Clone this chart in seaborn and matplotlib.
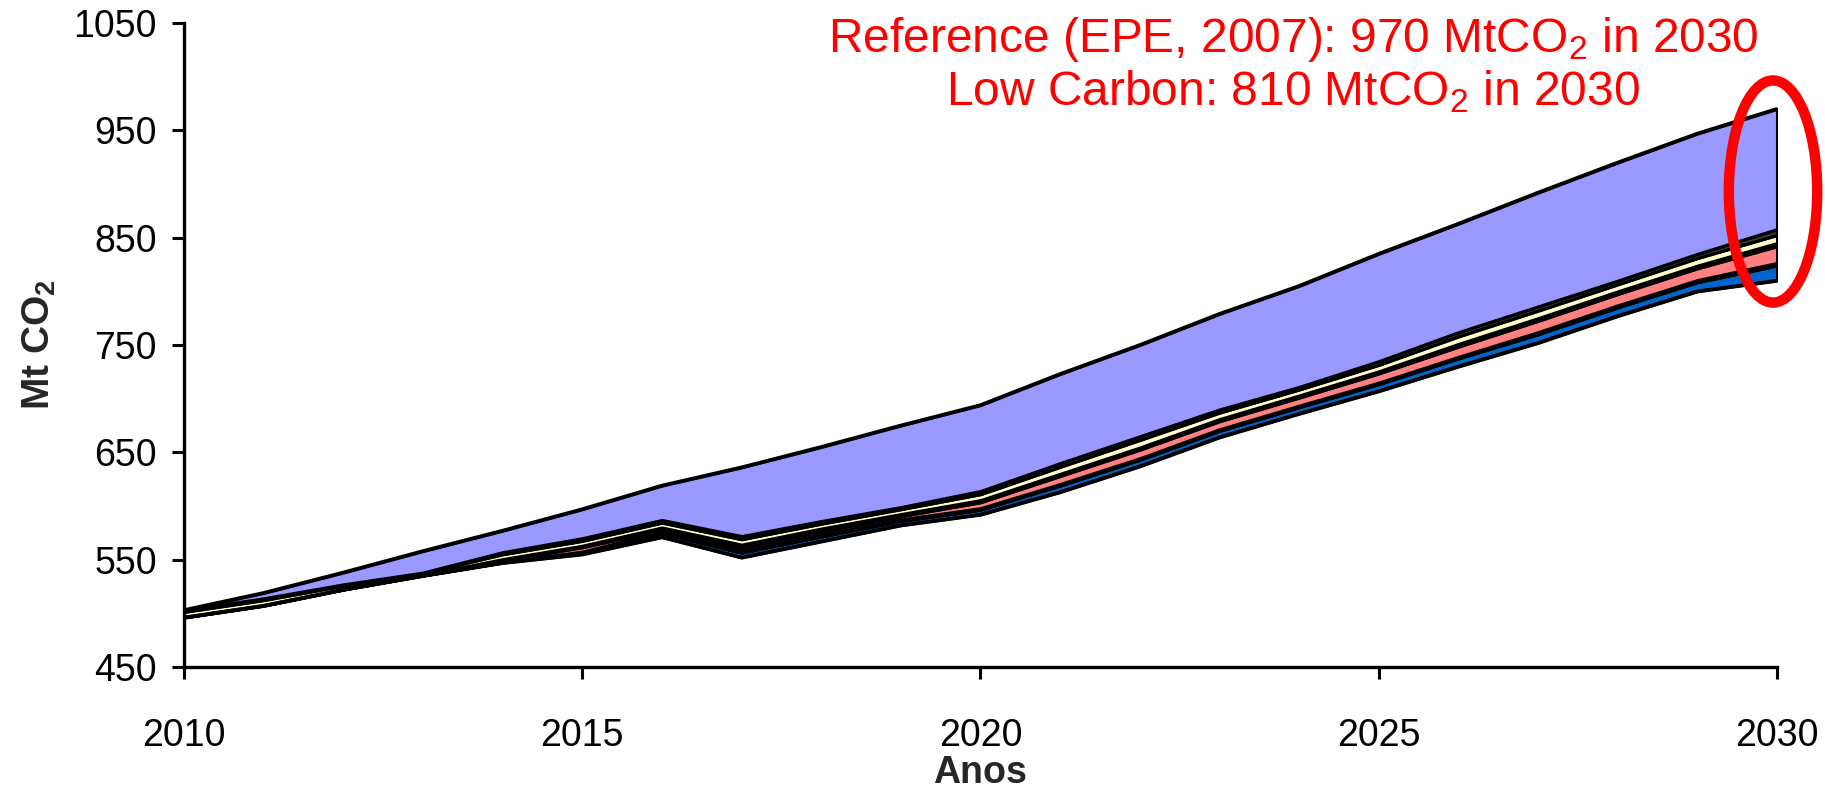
import matplotlib
matplotlib.use("Agg")
import matplotlib.pyplot as plt
from matplotlib.patches import Ellipse
import numpy as np
import pandas as pd
import seaborn as sns

# Emission trajectories, Mt CO2
years = list(range(2010, 2031))
low_carbon = [496, 507, 522, 535, 547, 555, 571, 552, 567, 582, 592,
              613, 637, 664, 686, 707, 730, 752, 777, 800, 810]
reference = [503, 519, 538, 558, 577, 597, 619, 636, 655, 675, 694,
             723, 750, 779, 805, 835, 863, 892, 920, 947, 970]

# Mitigation wedges stacked on top of the low carbon trajectory
wedge_blue = [0.2, 0.2, 0.2, 0.2, 0.5, 1.5, 3.5, 4.5, 4.5, 4, 4.5,
              6, 6, 6, 6, 6.5, 7.5, 8, 8, 8.5, 14]
wedge_dark1 = [0.2, 0.2, 0.2, 0.2, 0.5, 1, 1.5, 2, 2, 1.5, 1.5,
               1.5, 1.5, 1.5, 1.5, 1.5, 1.5, 2, 2, 2, 2.5]
wedge_pink = [0.2, 0.2, 0.2, 0.2, 1.5, 4, 2, 3, 3, 3, 5.5,
              7.5, 8, 7.5, 7.5, 8.5, 9.5, 10.5, 10.5, 11, 15.5]
wedge_dark2 = [0.2, 0.2, 0.2, 0.2, 1, 1.5, 2, 2.5, 2.5, 2, 2,
               2, 2, 2, 2, 2, 2.5, 2.5, 2.5, 2.5, 3]
wedge_yellow = [4.5, 4.5, 3, 1.7, 4.5, 4.5, 4.5, 5, 4.5, 4.5, 5.5,
                6.5, 7, 6, 5.5, 6, 7, 7, 6.5, 7, 7.5]
wedge_dark3 = [1.7, 1.7, 1.2, 0.5, 2, 2.5, 2.5, 3, 2.5, 2, 3,
               3.5, 3.5, 3, 2.5, 3.5, 4, 4, 3.5, 4, 5.5]

x_ticks = [2010, 2015, 2020, 2025, 2030]
y_ticks = [450, 550, 650, 750, 850, 950, 1050]

sns.set_theme(style="ticks")
plt.rcParams["font.family"] = ["Liberation Sans", "DejaVu Sans"]
plt.rcParams["mathtext.fontset"] = "custom"
plt.rcParams["mathtext.rm"] = "Liberation Sans"
plt.rcParams["mathtext.bf"] = "Liberation Sans:bold"

lower_wedges = np.array([wedge_blue, wedge_dark1, wedge_pink, wedge_dark2,
                         wedge_yellow, wedge_dark3])
lower_top = np.array(low_carbon) + lower_wedges.sum(axis=0)
wedge_purple = np.array(reference) - lower_top

fig = plt.figure(figsize=(18.25, 7.91), dpi=100)
ax = fig.add_axes([0.1008, 0.1568, 0.8729, 0.8141])

colors = ["white", "#0066CC", "#660066", "#FF8080", "#993366",
          "#FFFFCC", "#333333", "#9999FF"]
polys = ax.stackplot(years, low_carbon, *lower_wedges, wedge_purple,
                     colors=colors, edgecolor="black", linewidth=2.2)
polys[0].set_edgecolor("none")

df = pd.DataFrame({"Anos": years, "ref": reference, "low": low_carbon})
sns.lineplot(data=df, x="Anos", y="ref", color="black", linewidth=2.6, ax=ax)
sns.lineplot(data=df, x="Anos", y="low", color="black", linewidth=2.6, ax=ax)

ax.set_xlim(2010, 2030)
ax.set_ylim(450, 1050)
ax.set_xticks(x_ticks)
ax.set_yticks(y_ticks)
ax.tick_params(axis="both", direction="out", length=8.5, width=2.2,
               labelsize=27, colors="black")
ax.tick_params(axis="x", pad=28)
ax.tick_params(axis="y", pad=11)
for side in ("left", "bottom"):
    ax.spines[side].set_linewidth(2.4)
    ax.spines[side].set_color("black")
sns.despine(ax=ax)

ax.set_xlabel("Anos", fontsize=27, fontweight="bold", labelpad=1)
ax.set_ylabel(r"Mt CO$\mathbf{_2}$", fontsize=28, fontweight="bold", labelpad=11)

# Highlight of the 2030 gap between the two trajectories
ax.add_patch(Ellipse((2029.95, 893), width=1.11, height=207, fill=False,
                     edgecolor="#FF0000", linewidth=7.5, clip_on=False, zorder=10))

fig.text(0.7085, 0.934, r"Reference (EPE, 2007): 970 MtCO$_{2}$ in 2030",
         color="#FF0000", fontsize=34.5, ha="center", va="baseline")
fig.text(0.7085, 0.867, r"Low Carbon: 810 MtCO$_{2}$ in 2030",
         color="#FF0000", fontsize=34.5, ha="center", va="baseline")

fig.savefig("out.png", dpi=100)
